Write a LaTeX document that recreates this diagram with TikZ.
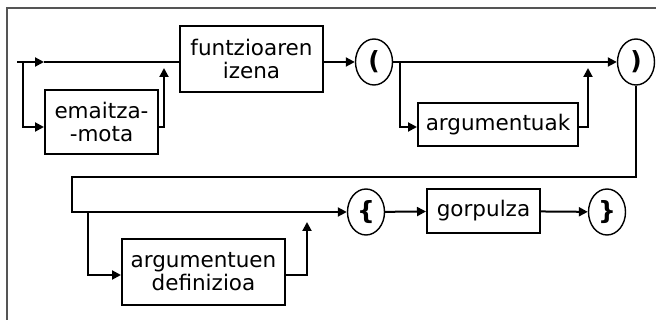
\documentclass[tikz,border=0pt]{standalone}
\usepackage{fontspec}
\setmainfont{DejaVu Sans}
\usetikzlibrary{arrows.meta, shapes.geometric}
\definecolor{framegray}{RGB}{85,85,85}

\begin{document}
\begin{tikzpicture}[x=1pt, y=-1pt, line width=2pt,
    >={Triangle[length=9pt, width=9pt]},
    box/.style={draw, rectangle, inner sep=0pt, align=center,
        font=\fontsize{21.5}{23}\selectfont},
    paren/.style={draw, ellipse, line width=1.4pt, inner sep=0pt,
        minimum width=37pt, minimum height=46pt,
        font=\bfseries\fontsize{25}{26}\selectfont}]
    \useasboundingbox (0,0) rectangle (656,320);
    \draw[framegray, line width=2.5pt] (7,320) |- (656,8);

    \node[box, minimum width=113pt, minimum height=64pt] (mota)   at (101.5,122) {emaitza-\\-mota};
    \node[box, minimum width=143pt, minimum height=66pt] (izena)  at (251.5,59)  {funtzioaren\\izena};
    \node[paren]                                         (lpar)   at (374,62)    {(};
    \node[box, minimum width=160pt, minimum height=43pt] (arg)    at (498,125)   {argumentuak};
    \node[paren]                                         (rpar)   at (636,62)    {)};
    \node[box, minimum width=163pt, minimum height=66pt] (argdef) at (203.5,272) {argumentuen\\definizioa};
    \node[paren]                                         (lbrace) at (366,212)   {\{};
    \node[box, minimum width=113pt, minimum height=44pt] (gorp)   at (483.5,211) {gorpulza};
    \node[paren]                                         (rbrace) at (607,212)   {\}};

    \coordinate (start)  at (17,62);
    \coordinate (mid1)   at (44,62);
    \coordinate (split1) at (23,62);
    \coordinate (join1)  at (164,68);
    \coordinate (split2) at (400,62);
    \coordinate (join2)  at (588,68);
    \coordinate (turn)   at (72,177);
    \coordinate (split3) at (88,212);
    \coordinate (join3)  at (307,222);

    % first row
    \draw[->] (start) -- (mid1);
    \draw (mid1) -- (izena.west |- start);
    \draw[->] (split1) |- ([yshift=-5pt]mota.west);
    \draw[->] ([yshift=-5pt]mota.east) -| (join1);
    \draw[->] (izena.east |- start) -- (lpar.west);
    \draw[->] (lpar.east) -- (rpar.west);
    \draw[->] (split2) |- ([yshift=-2pt]arg.west);
    \draw[->] ([yshift=-2pt]arg.east) -| (join2);

    % second row
    \draw[->] (rpar.south) |- (turn) |- (lbrace.west);
    \draw[->] (split3) |- ([yshift=-3pt]argdef.west);
    \draw[->] ([yshift=-3pt]argdef.east) -| (join3);
    \draw[->] (lbrace) -- (gorp);
    \draw[->] (gorp) -- (rbrace);
\end{tikzpicture}
\end{document}
